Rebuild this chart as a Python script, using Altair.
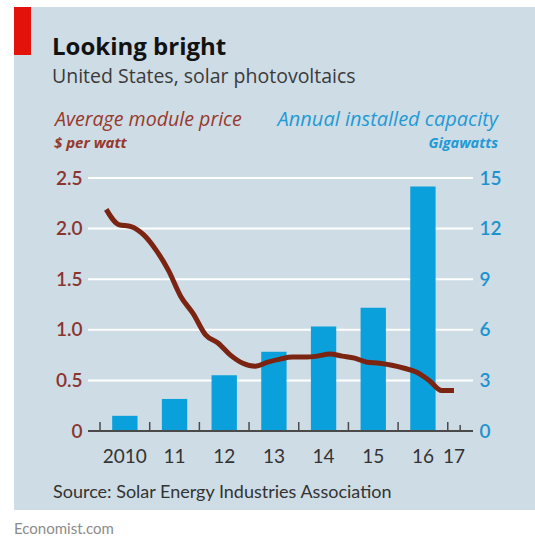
import altair as alt
import pandas as pd

# ---------------- data ----------------
bar_years = [2010, 2011, 2012, 2013, 2014, 2015, 2016]
capacity_gw = [0.9, 1.9, 3.3, 4.7, 6.2, 7.3, 14.5]

# quarterly average module price, 2010Q1 .. 2017Q1 ($ per watt)
price_years = [2010]*4 + [2011]*4 + [2012]*4 + [2013]*4 + [2014]*4 + [2015]*4 + [2016]*4 + [2017]
price_quarters = [1, 2, 3, 4]*7 + [1]
price_values = [2.19, 2.04, 2.02, 1.94,
                1.79, 1.59, 1.33, 1.16,
                0.95, 0.87, 0.75, 0.67,
                0.64, 0.68, 0.71, 0.73,
                0.73, 0.74, 0.76, 0.74,
                0.72, 0.68, 0.67, 0.65,
                0.62, 0.58, 0.50, 0.40,
                0.40]

x_label_years = [2010, 2011, 2012, 2013, 2014, 2015, 2016, 2017]
x_label_text = ["2010", "11", "12", "13", "14", "15", "16", "17"]
tick_years = [2010, 2011, 2012, 2013, 2014, 2015, 2016, 2017]
left_ticks = [0, 0.5, 1.0, 1.5, 2.0, 2.5]
right_ticks = [0, 3, 6, 9, 12, 15]

title = "Looking bright"
subtitle = "United States, solar photovoltaics"
left_title = "Average module price"
left_unit = "$ per watt"
right_title = "Annual installed capacity"
right_unit = "Gigawatts"
source = "Source: Solar Energy Industries Association"
credit = "Economist.com"

# ---------------- styling ----------------
W, H = 385, 253
PADL, PADT = 88, 178
FONT = "Lato"
HFONT = "Open Sans"
BG = "#cedce5"
BROWN = "#7b2412"
BROWN_TXT = "#96392d"
BROWN_LAB = "#8a3530"
BLUE = "#0aa0dc"
BLUE_TXT = "#1f9ad5"
BLUE_LAB = "#1c93cf"

xscale = alt.Scale(domain=[2009.758, 2017.508], nice=False, zero=False)
lscale = alt.Scale(domain=[0, 2.5], nice=False)
rscale = alt.Scale(domain=[0, 15], nice=False)

bars_df = pd.DataFrame({"year": bar_years, "gw": capacity_gw})
price_df = pd.DataFrame({"year": price_years, "q": price_quarters, "price": price_values})
lab_df = pd.DataFrame({"year": x_label_years, "label": x_label_text})
tick_df = pd.DataFrame({"year": tick_years})
grid_df = pd.DataFrame({"v": left_ticks})
one = pd.DataFrame({"a": [0]})

def txt(s, px, py, size, color, align="left", weight="normal", style="normal", font=FONT):
    return alt.Chart(pd.DataFrame({"t": [s]})).mark_text(
        align=align, baseline="alphabetic", fontSize=size, color=color,
        font=font, fontWeight=weight, fontStyle=style
    ).encode(x=alt.value(px - PADL), y=alt.value(py - PADT), text="t:N")

bg = alt.Chart(one).mark_rect(color=BG).encode(
    x=alt.value(14 - PADL), x2=alt.value(535 - PADL),
    y=alt.value(7 - PADT), y2=alt.value(510 - PADT))
red = alt.Chart(one).mark_rect(color="#e3120b").encode(
    x=alt.value(14 - PADL), x2=alt.value(31 - PADL),
    y=alt.value(7 - PADT), y2=alt.value(55 - PADT))

grid = alt.Chart(grid_df).mark_rule(color="white", strokeWidth=2).encode(
    y=alt.Y("v:Q", scale=lscale,
            axis=alt.Axis(orient="left", values=left_ticks, domain=False, ticks=False, grid=False,
                          labelColor=BROWN_LAB, labelFontSize=19, labelFont=FONT, labelPadding=6,
                          labelFontWeight=600, zindex=1,
                          labelExpr="datum.value == 0 ? '0' : format(datum.value, '.1f')", title=None)),
    x=alt.value(0), x2=alt.value(W))

bars = alt.Chart(bars_df).transform_calculate(
    x0="datum.year + 0.245", x1="datum.year + 0.755"
).mark_bar(color=BLUE).encode(
    x=alt.X("x0:Q", scale=xscale, axis=None), x2="x1:Q",
    y=alt.Y("gw:Q", scale=rscale,
            axis=alt.Axis(orient="right", values=right_ticks, domain=False, ticks=False, grid=False,
                          labelColor=BLUE_LAB, labelFontSize=19, labelFont=FONT, labelPadding=6,
                          labelFontWeight=600, zindex=1, title=None)),
    y2=alt.datum(0))

ticks = alt.Chart(tick_df).mark_rule(color="#4a4a4a", strokeWidth=1.5).encode(
    x=alt.X("year:Q", scale=xscale, axis=None), y=alt.value(H), y2=alt.value(H - 9))
minor = alt.Chart(pd.DataFrame({"year": [2017]})).transform_calculate(
    xm="datum.year + 0.25").mark_rule(color="#4a4a4a", strokeWidth=1.5).encode(
    x=alt.X("xm:Q", scale=xscale, axis=None), y=alt.value(H), y2=alt.value(H - 6))

axisline = alt.Chart(one).mark_rule(color="#4a4a4a", strokeWidth=2).encode(
    x=alt.value(0), x2=alt.value(W), y=alt.value(H))

line = alt.Chart(price_df).transform_calculate(
    t="datum.year + (datum.q - 0.5) / 4"
).mark_line(color=BROWN, strokeWidth=5, interpolate="monotone").encode(
    x=alt.X("t:Q", scale=xscale, axis=None),
    y=alt.Y("price:Q", scale=lscale, axis=None))

xlabels = alt.Chart(lab_df).transform_calculate(
    p="datum.year == 2017 ? datum.year + 0.125 : datum.year + 0.5"
).mark_text(fontSize=19, font=FONT, color="#333333", baseline="alphabetic").encode(
    x=alt.X("p:Q", scale=xscale, axis=None), y=alt.value(463 - PADT), text="label:N")

texts = [
    txt(title, 52, 55, 24, "#121212", weight="bold", font=HFONT),
    txt(subtitle, 52, 83, 19.5, "#3a3a3a", font=HFONT),
    txt(left_title, 55, 126, 19.6, BROWN_TXT, style="italic", font=HFONT),
    txt(left_unit, 54, 148, 15, BROWN_TXT, style="italic", weight="bold", font=HFONT),
    txt(right_title, 498, 126, 20, BLUE_TXT, align="right", style="italic", font=HFONT),
    txt(right_unit, 498, 148, 14.5, BLUE_TXT, align="right", style="italic", weight="bold", font=HFONT),
    txt(source, 53, 498, 18, "#333333"),
    txt(credit, 14, 534, 15, "#8c8c8c"),
]

chart = alt.layer(bg, red, grid, bars, ticks, minor, axisline, line, xlabels, *texts).resolve_scale(
    y="independent"
).properties(
    width=W, height=H, autosize="none",
    padding={"left": PADL, "top": PADT, "right": 535 - PADL - W, "bottom": 538 - PADT - H},
    background="white"
).configure_view(stroke=None)

chart.save("out.html", embed_options={"renderer": "svg", "actions": False})
